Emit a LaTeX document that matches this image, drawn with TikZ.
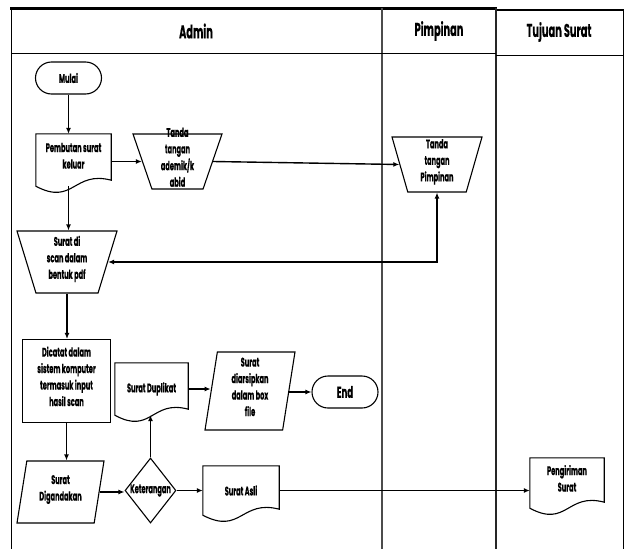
\documentclass[tikz,border=0pt]{standalone}
\usepackage{fontspec}
\setmainfont{Poppins}[FakeStretch=0.53, FakeBold=0.4]
\usetikzlibrary{shapes.geometric,shapes.misc,arrows.meta,calc}

% several lines of text that take no height in a node
\newcommand{\flatlines}[1]{\smash{\begin{tabular}{@{}c@{}}#1\end{tabular}}}
% empty strut, #1 above and #1 below the baseline
\newcommand{\vspan}[1]{\rule[-#1]{0pt}{#1}\rule{0pt}{#1}}
% document symbol: box with a wavy bottom
\newcommand{\docwave}[1]{%
  \draw[outline] (#1.north west) -- (#1.north east) -- ($(#1.south east)+(0,-6)$)
    .. controls ($(#1.south)+(0,-16)$) and ($(#1.south)+(0,20)$) .. (#1.south west) -- cycle;}

\begin{document}
\begin{tikzpicture}[x=1pt,y=-1pt,
    every node/.style={font=\bfseries\fontsize{12.5}{16.5}\selectfont, inner sep=0pt},
    header/.style={font=\bfseries\fontsize{18.5}{20}\selectfont},
    outline/.style={line width=1.1pt},
    terminal/.style={rounded rectangle, draw, outline, minimum width=66pt, minimum height=32pt},
    process/.style={rectangle, draw, outline},
    docnode/.style={rectangle},
    manual/.style={trapezium, shape border rotate=180, trapezium stretches body=true, draw, outline},
    dataio/.style={trapezium, trapezium left angle=81, trapezium right angle=99,
      trapezium stretches body=true, draw, outline},
    decision/.style={diamond, aspect=0.8, draw, outline},
    flow/.style={-{Latex[length=6pt,width=5pt]}, line width=1.8pt},
    longflow/.style={-{Latex[length=6pt,width=5pt]}, line width=1.4pt}]

  \useasboundingbox (0,0) rectangle (624,549);

  % Swimlanes
  \draw[line width=3pt] (10,8) -- (497,8);
  \draw[line width=1.5pt] (496,10) -- (623.5,10);
  \draw[line width=1pt] (11,8) -- (11,549);
  \draw[line width=1.2pt, black!70] (382,8) -- (382,549);
  \draw[line width=1.8pt, black!85] (496,8) -- (496,549);
  \draw[line width=1pt] (623,10) -- (623,549);
  \draw[line width=1pt] (11,53) -- (496,53);
  \draw[line width=1pt] (496,55) -- (623,55);

  \node[header] (hadmin) at (196,31) {Admin};
  \node[header] (hpimpinan) at (439,31) {Pimpinan};
  \node[header] (htujuan) at (559,32) {Tujuan Surat};

  % Admin
  \node[terminal] (mulai) at (68.5,78) {Mulai};
  \node[docnode, minimum width=75pt, minimum height=52pt] (buat) at (73.5,160)
    {\flatlines{Pembutan surat\\keluar}};
  \docwave{buat}
  \node[manual, trapezium angle=71, minimum width=89pt] (ttdadmin) at (177.5,161.5)
    {\vspan{27.5pt}\flatlines{Tanda\\tangan\\ademik/k\\abid}};
  \node[manual, trapezium angle=73, minimum width=100pt] (scan) at (67,262)
    {\vspan{31pt}\flatlines{Surat di\\scan dalam\\bentuk pdf}};
  \node[process, minimum width=88pt, minimum height=83pt] (catat) at (66.5,381)
    {\flatlines{Dicatat dalam\\sistem komputer\\termasuk input\\hasil scan}};
  \node[dataio, minimum width=87pt] (ganda) at (60.5,492)
    {\vspan{31pt}\flatlines{Surat\\Digandakan}};
  \node[decision, minimum width=51pt, minimum height=65pt] (ket) at (150.5,490.5)
    {\makebox[0pt]{Keterangan}};
  \node[docnode, minimum width=73pt, minimum height=52pt] (duplikat) at (151.5,389) {Surat Duplikat};
  \docwave{duplikat}
  \node[dataio, minimum width=90pt] (arsip) at (250,391)
    {\vspan{39pt}\flatlines{Surat\\diarsipkan\\dalam box\\file}};
  \node[terminal, font=\bfseries\fontsize{16}{16}\selectfont] (end) at (345,392) {End};
  \node[docnode, minimum width=76pt, minimum height=49pt] (asli) at (241,490.5) {Surat Asli};
  \docwave{asli}

  % Pimpinan
  \node[manual, trapezium angle=74, minimum width=90pt] (ttdpimpinan) at (437,164.5)
    {\vspan{27.5pt}\flatlines{Tanda\\tangan\\Pimpinan}};

  % Tujuan Surat
  \node[docnode, minimum width=74pt, minimum height=50pt] (kirim) at (567,483)
    {\flatlines{Pengiriman\\Surat}};
  \docwave{kirim}

  % Connectors
  \draw[flow] (mulai.south) -- (mulai.south |- buat.north);
  \draw[flow] (buat.east |- ttdadmin.west) -- (ttdadmin.west);
  \draw[longflow] (ttdadmin.east) -- (ttdpimpinan.west);
  \draw[flow] (mulai.south |- buat.south) -- (mulai.south |- scan.north);
  \draw[longflow, {Latex[length=6pt,width=5pt]}-{Latex[length=6pt,width=5pt]}] (scan.east) -| (ttdpimpinan.south);
  \draw[flow] (scan.south) -- (scan.south |- catat.north);
  \draw[flow] (catat.south) -- (catat.south |- ganda.north);
  \draw[flow] (ganda.east) -- (ganda.east -| ket.west);
  \draw[flow] (ket.east) -- (ket.east -| asli.west);
  \draw[flow] (ket.north) -- (ket.north |- duplikat.south);
  \draw[flow] (duplikat.east) -- (duplikat.east -| arsip.west);
  \draw[flow] (arsip.east |- end.west) -- (end.west);
  \draw[flow] (asli.east) -- (asli.east -| kirim.west);
\end{tikzpicture}
\end{document}
